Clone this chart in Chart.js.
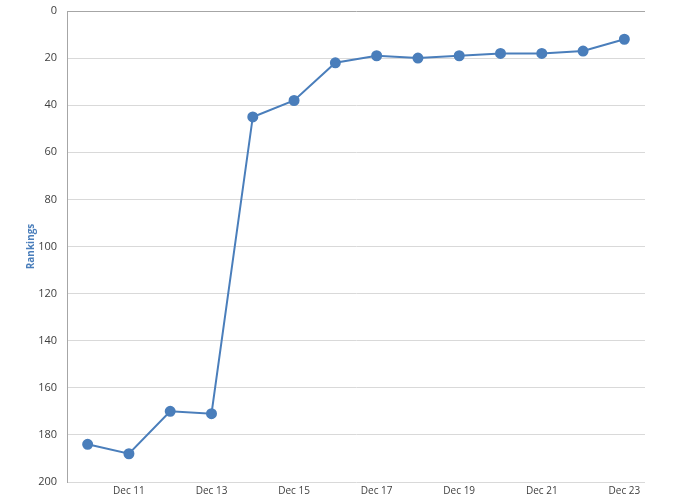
<!DOCTYPE html>
<html>
<head>
<meta charset="utf-8">
<script src="https://cdn.jsdelivr.net/npm/chart.js@4"></script>
<style>
  html, body { margin: 0; padding: 0; background: #fff; }
  #wrap { width: 700px; height: 500px; }
</style>
</head>
<body>
<div id="wrap"><canvas id="rankChart"></canvas></div>
<script>
const days = ['Dec 10', 'Dec 11', 'Dec 12', 'Dec 13', 'Dec 14', 'Dec 15', 'Dec 16',
              'Dec 17', 'Dec 18', 'Dec 19', 'Dec 20', 'Dec 21', 'Dec 22', 'Dec 23'];
const rankings = [184, 188, 170, 171, 45, 38, 22, 19, 20, 19, 18, 18, 17, 12];
const yTicks = [0, 20, 40, 60, 80, 100, 120, 140, 160, 180, 200];

const blue = '#4a7ebb';

// Excel-style: every other date label, starting at Dec 11
function dayLabel(value, index) {
    return index % 2 === 1 ? days[index] : '';
}

const ctx = document.getElementById('rankChart').getContext('2d');

new Chart(ctx, {
    type: 'line',
    data: {
        labels: days,
        datasets: [{
            label: 'Rankings',
            data: rankings,
            borderColor: blue,
            backgroundColor: blue,
            borderWidth: 2,
            pointRadius: 4.5,
            pointBackgroundColor: blue,
            pointBorderColor: blue,
            tension: 0
        }]
    },
    options: {
        responsive: true,
        maintainAspectRatio: false,
        animation: false,
        layout: { padding: { top: 11, right: 55, left: 25, bottom: 0 } },
        plugins: {
            legend: { display: false },
            tooltip: { enabled: false }
        },
        scales: {
            x: {
                offset: true,
                grid: { display: false, drawTicks: false },
                border: { display: false },
                ticks: {
                    autoSkip: false,
                    maxRotation: 0,
                    color: '#404040',
                    font: { family: 'Open Sans', size: 10 },
                    padding: 3,
                    callback: dayLabel
                }
            },
            y: {
                reverse: true,
                min: 0,
                max: 200,
                afterBuildTicks: axis => { axis.ticks = yTicks.map(v => ({ value: v })); },
                afterFit: axis => {
                    axis.width = 42;
                    axis.paddingTop = 0;
                    axis.paddingBottom = 0;
                },
                border: { display: true, color: '#a6a6a6', width: 1 },
                grid: {
                    color: c => c.tick && c.tick.value === 0 ? '#a6a6a6' : '#d9d9d9',
                    drawTicks: false
                },
                ticks: {
                    color: '#404040',
                    font: { family: 'Open Sans', size: 11 },
                    padding: 10
                },
                title: {
                    display: true,
                    text: 'Rankings',
                    color: blue,
                    font: { family: 'Open Sans', size: 10, weight: 'bold' },
                    padding: 0
                }
            }
        }
    }
});
</script>
</body>
</html>
